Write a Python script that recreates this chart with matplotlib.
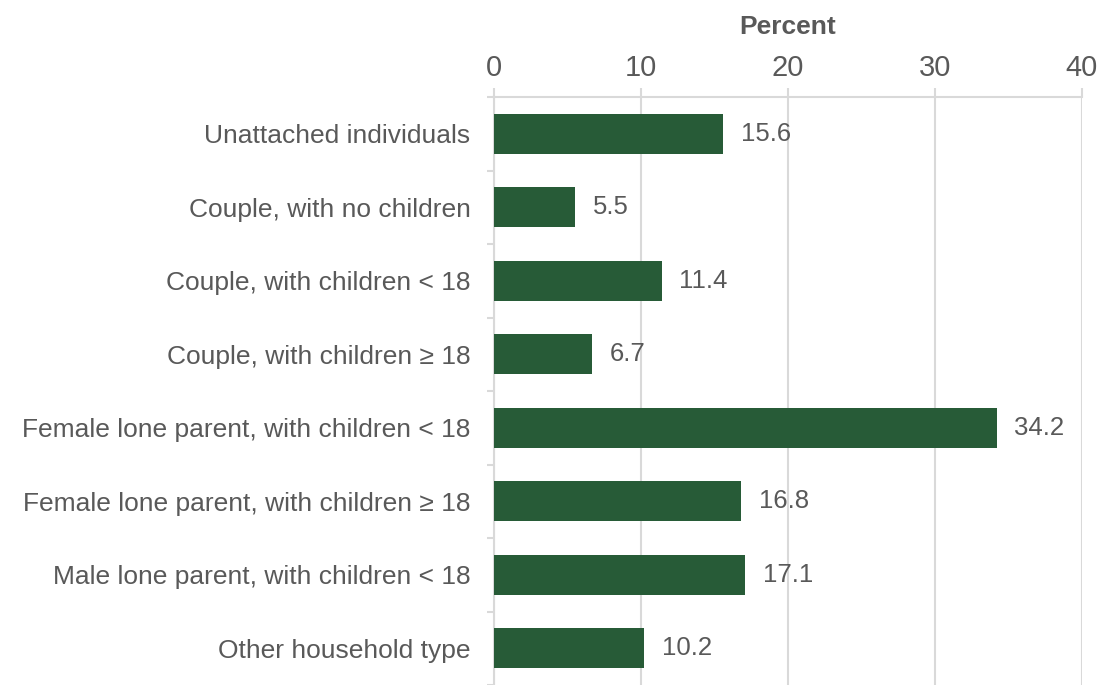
import matplotlib.pyplot as plt
from matplotlib.ticker import MultipleLocator

categories = [
    "Unattached individuals",
    "Couple, with no children",
    "Couple, with children < 18",
    "Couple, with children \u2265 18",
    "Female lone parent, with children < 18",
    "Female lone parent, with children \u2265 18",
    "Male lone parent, with children < 18",
    "Other household type",
]
values = [15.6, 5.5, 11.4, 6.7, 34.2, 16.8, 17.1, 10.2]

plt.rcParams["font.family"] = ["Liberation Sans", "DejaVu Sans"]
text_color = "#595959"
grid_color = "#d9d9d9"
bar_color = "#275b37"

fig = plt.figure(figsize=(10.97, 6.85), dpi=100)
ax = fig.add_axes([494 / 1097, 0.0, (1082 - 494) / 1097, 1 - 97 / 685])

y = list(range(len(categories)))
ax.barh(y, values, height=0.54, color=bar_color, zorder=3)
for yi, v in zip(y, values):
    ax.text(v + 1.2, yi, f"{v:.1f}", va="center", ha="left",
            fontsize=18.5, color=text_color, zorder=4)

ax.set_xlim(0, 40)
ax.set_ylim(len(categories) - 0.5, -0.5)
ax.xaxis.set_major_locator(MultipleLocator(10))
ax.xaxis.tick_top()
ax.xaxis.set_label_position("top")
ax.set_xlabel("Percent", fontsize=19, fontweight="bold", color=text_color, labelpad=14)
ax.tick_params(axis="x", colors=grid_color, labelcolor=text_color, labelsize=21,
               length=6.5, width=1.5, pad=4.5)

ax.set_yticks(y)
ax.set_yticklabels(categories)
ax.set_yticks([i + 0.5 for i in range(-1, len(categories))], minor=True)
ax.tick_params(axis="y", which="major", length=0, labelsize=19,
               labelcolor=text_color, pad=17)
ax.tick_params(axis="y", which="minor", length=5, width=1.5, color=grid_color)

ax.grid(axis="x", color=grid_color, linewidth=1.5, zorder=0)
for side in ["right", "bottom"]:
    ax.spines[side].set_visible(False)
for side in ["top", "left"]:
    ax.spines[side].set_color(grid_color)
    ax.spines[side].set_linewidth(1.5)

fig.savefig("out.png", dpi=100)
